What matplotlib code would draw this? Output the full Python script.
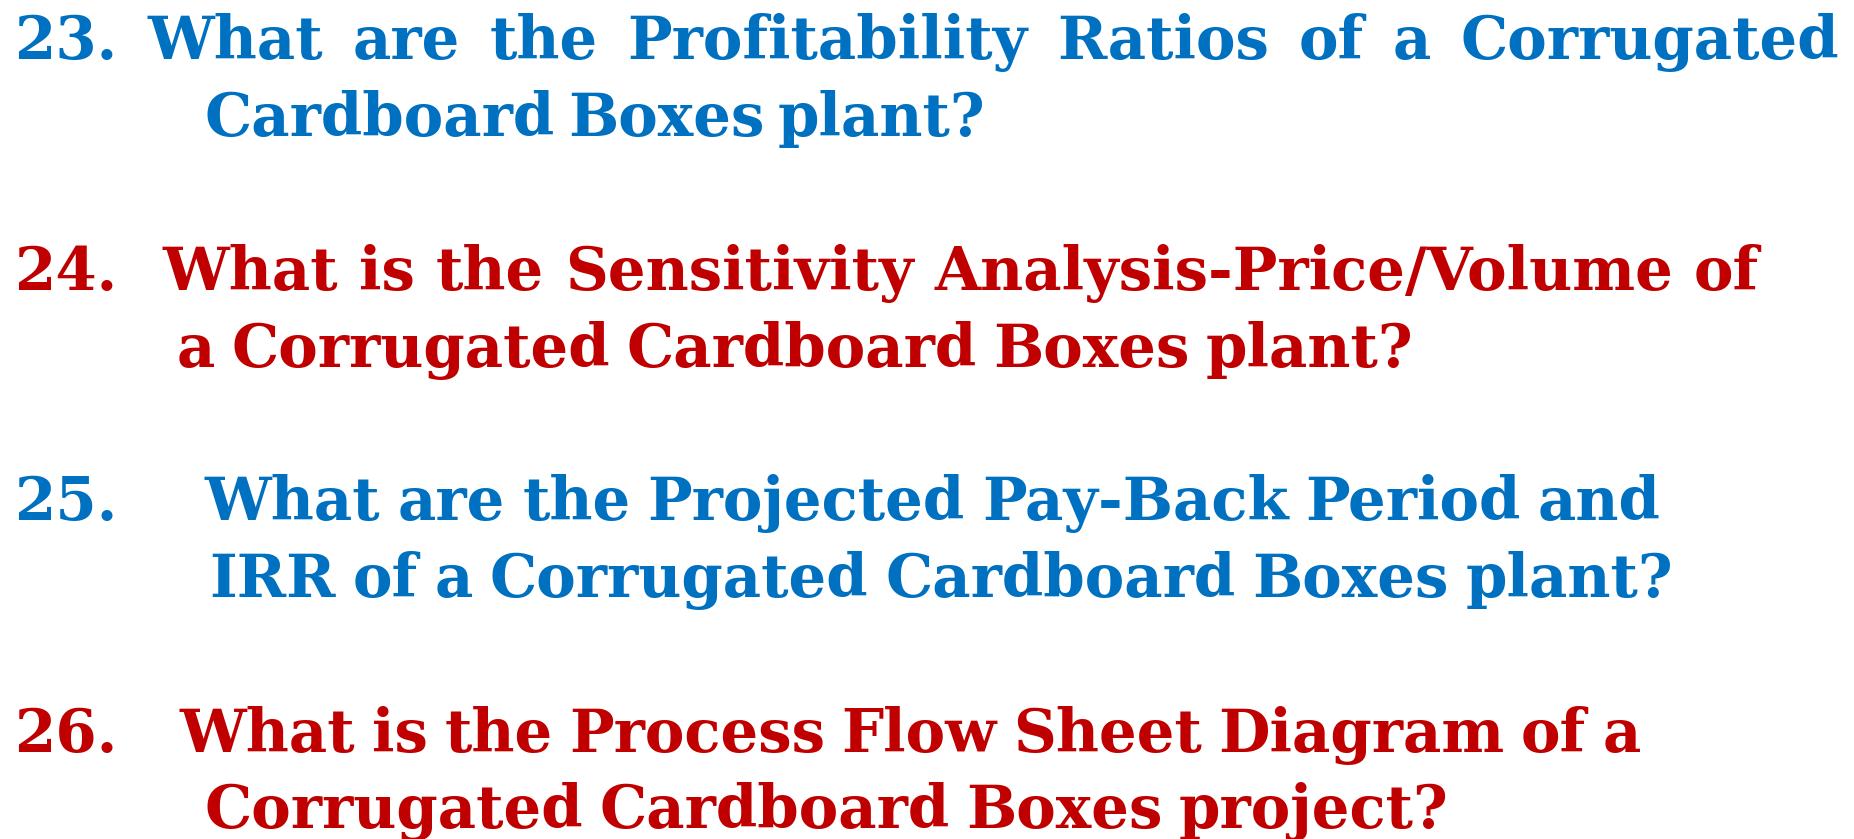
import matplotlib
matplotlib.use("Agg")
import matplotlib.pyplot as plt

W, H = 1854, 839
blue = "#0070C0"
red = "#C00000"

numbers = ["23.", "24.", "25.", "26."]
first_lines = ["What are the Profitability Ratios of a Corrugated",
               "What is the Sensitivity Analysis-Price/Volume of",
               "What are the Projected Pay-Back Period and",
               "What is the Process Flow Sheet Diagram of a"]
second_lines = ["Cardboard Boxes plant?",
                "a Corrugated Cardboard Boxes plant?",
                "IRR of a Corrugated Cardboard Boxes plant?",
                "Corrugated Cardboard Boxes project?"]
colors = [blue, red, blue, red]

# layout in pixels: start/end x of each line, baselines
x_first = [148, 163, 205, 180]
end_first = [1839, 1759, 1661, 1641]
x_second = [205, 177, 209, 205]
end_second = [985, 1413, 1673, 1448]
base_first = [59, 290, 520, 752]
base_second = [136, 367, 597, 828]

fig = plt.figure(figsize=(W / 100, H / 100), dpi=100)
ax = fig.add_axes([0, 0, 1, 1])
ax.set_xlim(0, W)
ax.set_ylim(H, 0)
ax.axis("off")
renderer = fig.canvas.get_renderer()
font = dict(family="DejaVu Serif", fontweight="bold")


def width_of(s, size):
    t = ax.text(0, 0, s, fontsize=size, **font)
    w = t.get_window_extent(renderer).width
    t.remove()
    return w


def put_line(s, x0, x1, y, size, c):
    # spread words so the line runs from x0 to x1
    words = s.split()
    ws = [width_of(w, size) for w in words]
    gap = (x1 - x0 - sum(ws)) / (len(words) - 1)
    x = x0
    for w, wd in zip(words, ws):
        ax.text(x, y, w, fontsize=size, color=c, va="baseline", **font)
        x += wd + gap


# one common size, fitted so line 24 spans its width
size = 40 * (1759 - 163) / width_of(first_lines[1], 40)

for i in range(4):
    c = colors[i]
    ax.text(14, base_first[i], numbers[i], fontsize=size, color=c, va="baseline", **font)
    put_line(first_lines[i], x_first[i], end_first[i], base_first[i], size, c)
    put_line(second_lines[i], x_second[i], end_second[i], base_second[i], size, c)

fig.savefig("out.png", dpi=100, facecolor="white")
